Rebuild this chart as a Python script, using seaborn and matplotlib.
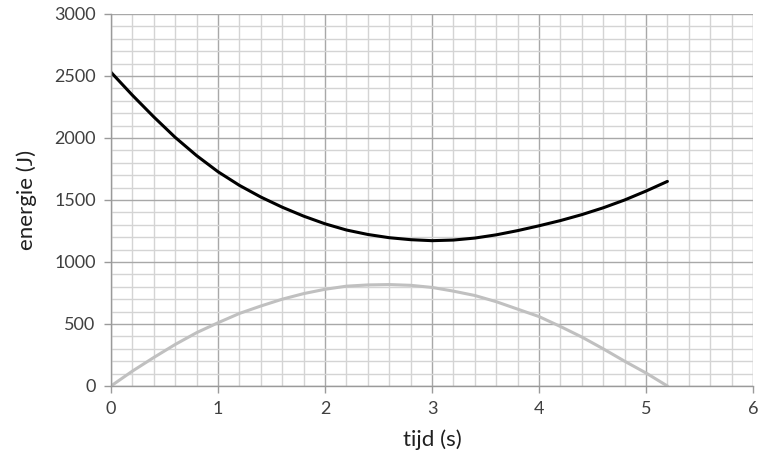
import matplotlib
matplotlib.use("Agg")
import matplotlib.pyplot as plt
import pandas as pd
import seaborn as sns
from matplotlib.ticker import MultipleLocator

# values
tijd = [0.0, 0.2, 0.4, 0.6, 0.8, 1.0, 1.2, 1.4, 1.6, 1.8, 2.0, 2.2, 2.4, 2.6,
        2.8, 3.0, 3.2, 3.4, 3.6, 3.8, 4.0, 4.2, 4.4, 4.6, 4.8, 5.0, 5.2]
energie_zwart = [2530, 2345, 2170, 2005, 1858, 1728, 1618, 1524, 1442, 1370,
                 1308, 1258, 1222, 1196, 1180, 1172, 1177, 1193, 1219, 1253,
                 1292, 1334, 1382, 1437, 1500, 1572, 1650]
energie_grijs = [0, 120, 230, 335, 430, 510, 585, 645, 700, 745, 780, 805,
                 815, 818, 812, 795, 765, 730, 680, 620, 560, 480, 395, 300,
                 200, 105, 0]

df = pd.DataFrame({"tijd": tijd, "zwart": energie_zwart, "grijs": energie_grijs})

sns.set_theme(style="white")
plt.rcParams["font.family"] = ["Lato", "DejaVu Sans"]

fig = plt.figure(figsize=(7.58, 4.57), dpi=100)
ax = fig.add_axes([111 / 758, 71 / 457, 642 / 758, 372 / 457])

sns.lineplot(data=df, x="tijd", y="grijs", color="#c0c0c0", linewidth=2.2, ax=ax)
sns.lineplot(data=df, x="tijd", y="zwart", color="#000000", linewidth=2.2, ax=ax)

ax.set_xlim(0, 6)
ax.set_ylim(0, 3000)
ax.xaxis.set_major_locator(MultipleLocator(1))
ax.xaxis.set_minor_locator(MultipleLocator(0.2))
ax.yaxis.set_major_locator(MultipleLocator(500))
ax.yaxis.set_minor_locator(MultipleLocator(100))

ax.grid(which="major", color="#a8a8a8", linewidth=1.0)
ax.grid(which="minor", color="#d4d4d4", linewidth=1.0)
ax.set_axisbelow(True)

for side in ["top", "right"]:
    ax.spines[side].set_visible(False)
for side in ["left", "bottom"]:
    ax.spines[side].set_color("#9a9a9a")
    ax.spines[side].set_linewidth(1.0)

ax.tick_params(which="major", direction="out", length=5, width=1.0,
               color="#9a9a9a", labelsize=13, labelcolor="#404040", pad=6,
               left=True, bottom=True)
ax.tick_params(which="minor", length=0)

ax.set_xlabel("tijd (s)", fontsize=16, color="#202020", labelpad=9)
ax.set_ylabel("energie (J)", fontsize=16, color="#202020", labelpad=12)

fig.savefig("out.png", dpi=100)
